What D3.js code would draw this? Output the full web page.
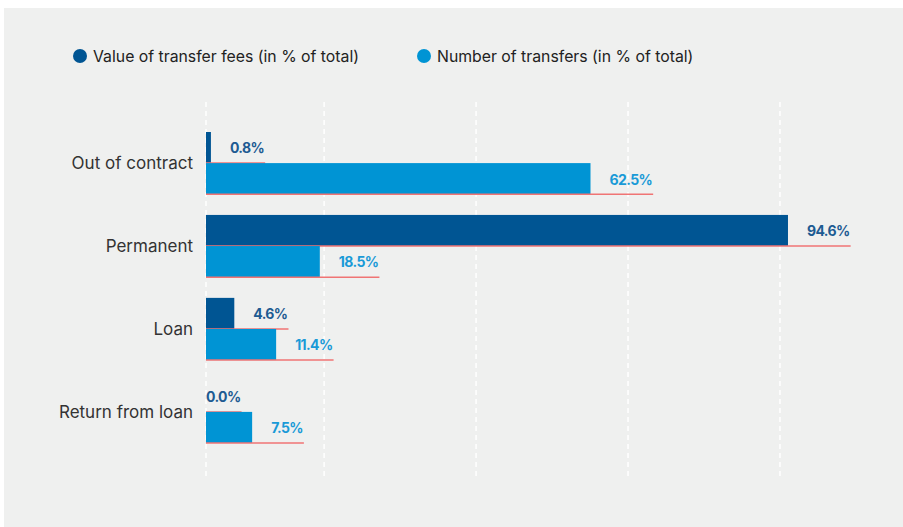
<!DOCTYPE html>
<html>
<head>
<meta charset="utf-8">
<script src="https://cdn.jsdelivr.net/npm/d3@7"></script>
<style>
  body { margin: 0; background: #ffffff; }
  svg { display: block; font-family: Inter, "Open Sans", sans-serif; }
</style>
</head>
<body>
<div id="chart"></div>
<script>
var categories = ["Out of contract", "Permanent", "Loan", "Return from loan"];
var feeValues = [0.8, 94.6, 4.6, 0.0];
var countValues = [62.5, 18.5, 11.4, 7.5];
var seriesNames = ["Value of transfer fees (in % of total)", "Number of transfers (in % of total)"];
var gridTicks = [0, 19.2, 43.9, 68.6, 93.3];

var colors = ["#005593", "#0094d4"];
var labelColors = ["#1d5b92", "#1a9ad7"];

var W = 903, H = 527;

var svg = d3.select("#chart").append("svg")
    .attr("width", W)
    .attr("height", H);

// panel
svg.append("rect")
    .attr("x", 4).attr("y", 8)
    .attr("width", W - 4).attr("height", H - 8)
    .attr("fill", "#eff0ef");

var x = d3.scaleLinear().domain([0, 100]).range([206, 821.2]);
var y = d3.scaleBand().domain(categories).range([132, 443]).paddingInner(0.25).paddingOuter(0);
var ySub = d3.scaleBand().domain([0, 1]).range([0, y.bandwidth()]);

// grid
svg.append("g").selectAll("line")
    .data(gridTicks)
    .enter().append("line")
    .attr("x1", d => x(d)).attr("x2", d => x(d))
    .attr("y1", 102).attr("y2", 476)
    .attr("stroke", "#ffffff")
    .attr("stroke-width", 1.5)
    .attr("stroke-dasharray", "5,4");

// legend
var legend = svg.append("g").selectAll("g")
    .data(seriesNames)
    .enter().append("g")
    .attr("transform", (d, i) => "translate(" + (i === 0 ? 80 : 424) + ",56)");
legend.append("circle")
    .attr("r", 7)
    .attr("fill", (d, i) => colors[i]);
legend.append("text")
    .attr("x", 13)
    .attr("dy", "0.38em")
    .attr("fill", "#222")
    .style("font-size", "15.8px")
    .text(d => d);

// category labels
svg.append("g").selectAll("text")
    .data(categories)
    .enter().append("text")
    .attr("x", 193)
    .attr("y", d => y(d) + y.bandwidth() / 2)
    .attr("dy", "0.35em")
    .attr("text-anchor", "end")
    .attr("fill", "#333")
    .style("font-size", "17px")
    .text(d => d);

var rows = [];
categories.forEach(function (c, i) {
    rows.push({cat: c, s: 0, v: feeValues[i]});
    rows.push({cat: c, s: 1, v: countValues[i]});
});

var bars = svg.append("g").selectAll("g")
    .data(rows)
    .enter().append("g")
    .attr("transform", d => "translate(0," + (y(d.cat) + ySub(d.s)) + ")");

bars.append("rect")
    .attr("x", x(0))
    .attr("width", d => x(d.v) - x(0))
    .attr("height", ySub.bandwidth())
    .attr("fill", d => colors[d.s]);

var labels = bars.append("text")
    .attr("x", d => d.v === 0 ? x(0) : x(d.v) + 19)
    .attr("y", ySub.bandwidth() / 2 + 1)
    .attr("dy", "0.35em")
    .attr("fill", d => labelColors[d.s])
    .style("font-size", "14px")
    .style("font-weight", "700")
    .style("letter-spacing", "-0.6px")
    .text(d => d.v.toFixed(1) + "%");

// thin red underline below each bar up to the label end
labels.each(function (d) {
    var end = +d3.select(this).attr("x") + this.getComputedTextLength() + 1;
    d3.select(this.parentNode).append("line")
        .attr("x1", x(0)).attr("x2", end)
        .attr("y1", ySub.bandwidth()).attr("y2", ySub.bandwidth())
        .attr("stroke", "#f07474")
        .attr("stroke-width", 1.5);
});
</script>
</body>
</html>
